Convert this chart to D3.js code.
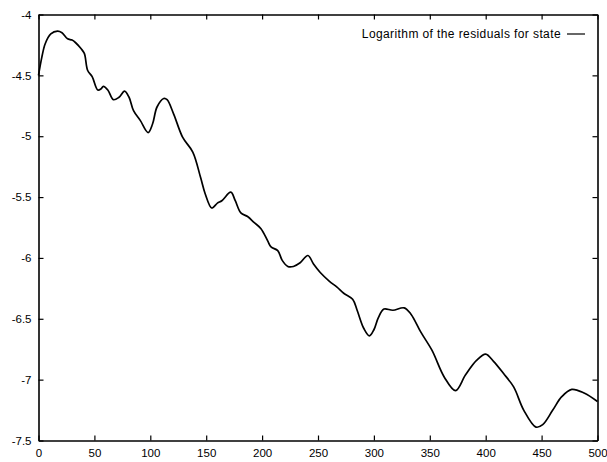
<!DOCTYPE html>
<html>
<head>
<meta charset="utf-8">
<script src="https://cdn.jsdelivr.net/npm/d3@7"></script>
<style>
body { margin: 0; background: #fff; }
text { font-family: "Liberation Sans", Arial, sans-serif; }
</style>
</head>
<body>
<div id="chart-area"></div>
<script>
// values
var iterations = [0, 3, 6, 11, 17, 21, 26, 30, 33, 38, 41, 44, 48, 53, 56, 58, 62, 67, 72, 77, 81, 85, 91, 98,
    102, 106, 112, 115, 121, 129, 138, 145, 149, 155, 160, 164, 172, 176, 181, 187, 193, 199, 205, 208,
    214, 218, 223, 228, 234, 241, 246, 252, 260, 267, 273, 281, 285, 291, 296, 300, 304, 309, 317, 327,
    333, 342, 352, 363, 373, 382, 392, 400, 407, 416, 425, 434, 445, 451, 460, 468, 477, 488, 500];
var logResidual = [-4.5, -4.35, -4.24, -4.16, -4.137, -4.15, -4.2, -4.21, -4.23, -4.28, -4.32, -4.46, -4.51, -4.62, -4.61, -4.59, -4.62, -4.7, -4.68, -4.63, -4.68, -4.79, -4.87, -4.97,
    -4.9, -4.76, -4.69, -4.7, -4.82, -5.01, -5.13, -5.34, -5.47, -5.59, -5.55, -5.53, -5.46, -5.53, -5.63, -5.66, -5.71, -5.76, -5.86, -5.91,
    -5.94, -6.02, -6.07, -6.07, -6.04, -5.98, -6.05, -6.12, -6.19, -6.24, -6.29, -6.34, -6.43, -6.58, -6.64, -6.59, -6.49, -6.42, -6.43, -6.41,
    -6.46, -6.61, -6.76, -6.98, -7.09, -6.96, -6.84, -6.79, -6.85, -6.95, -7.06, -7.25, -7.39, -7.37, -7.25, -7.14, -7.08, -7.11, -7.18];
var xTicks = [0, 50, 100, 150, 200, 250, 300, 350, 400, 450, 500];
var yTicks = [-4, -4.5, -5, -5.5, -6, -6.5, -7, -7.5];
var legendLabel = "Logarithm of the residuals for state";

var svg = d3.select("#chart-area")
    .append("svg")
    .attr("width", 607)
    .attr("height", 462);

var plotLeft = 38.5, plotRight = 597.5, plotTop = 14.5, plotBottom = 440.5;

var x = d3.scaleLinear().domain([0, 500]).range([plotLeft, plotRight]);
var y = d3.scaleLinear().domain([-7.5, -4]).range([plotBottom, plotTop]);

var points = iterations.map((d, i) => {
    return [d, logResidual[i]];
});

// axes, ticks pointing inward like gnuplot
svg.append("g")
    .attr("transform", "translate(0," + plotBottom + ")")
    .call(d3.axisBottom(x).tickValues(xTicks).tickSizeInner(-5).tickSizeOuter(0).tickPadding(8).tickFormat((d) => d));
svg.append("g")
    .attr("transform", "translate(0," + plotTop + ")")
    .call(d3.axisTop(x).tickValues(xTicks).tickSizeInner(-5).tickSizeOuter(0).tickFormat(""));
svg.append("g")
    .attr("transform", "translate(" + plotLeft + ",0)")
    .call(d3.axisLeft(y).tickValues(yTicks).tickSizeInner(-5).tickSizeOuter(0).tickPadding(7).tickFormat((d) => d));
svg.append("g")
    .attr("transform", "translate(" + plotRight + ",0)")
    .call(d3.axisRight(y).tickValues(yTicks).tickSizeInner(-5).tickSizeOuter(0).tickFormat(""));

svg.selectAll(".domain").attr("stroke", "#000").attr("stroke-width", 1.6);
svg.selectAll(".tick line").attr("stroke", "#000").attr("stroke-width", 1.2);
svg.selectAll(".tick text").attr("font-size", 11.5).attr("fill", "#000")
    .attr("font-family", "'Liberation Sans', Arial, sans-serif");

var line = d3.line()
    .x((d) => x(d[0]))
    .y((d) => y(d[1]))
    .curve(d3.curveCatmullRom.alpha(0.5));

svg.append("path")
    .datum(points)
    .attr("d", line)
    .attr("fill", "none")
    .attr("stroke", "#000")
    .attr("stroke-width", 1.7);

// legend
svg.append("text")
    .attr("x", 561)
    .attr("y", 38)
    .attr("text-anchor", "end")
    .attr("font-size", 12)
    .attr("letter-spacing", 0.4)
    .text(legendLabel);
svg.append("line")
    .attr("x1", 567)
    .attr("x2", 585)
    .attr("y1", 34)
    .attr("y2", 34)
    .attr("stroke", "#000")
    .attr("stroke-width", 1.2);
</script>
</body>
</html>
